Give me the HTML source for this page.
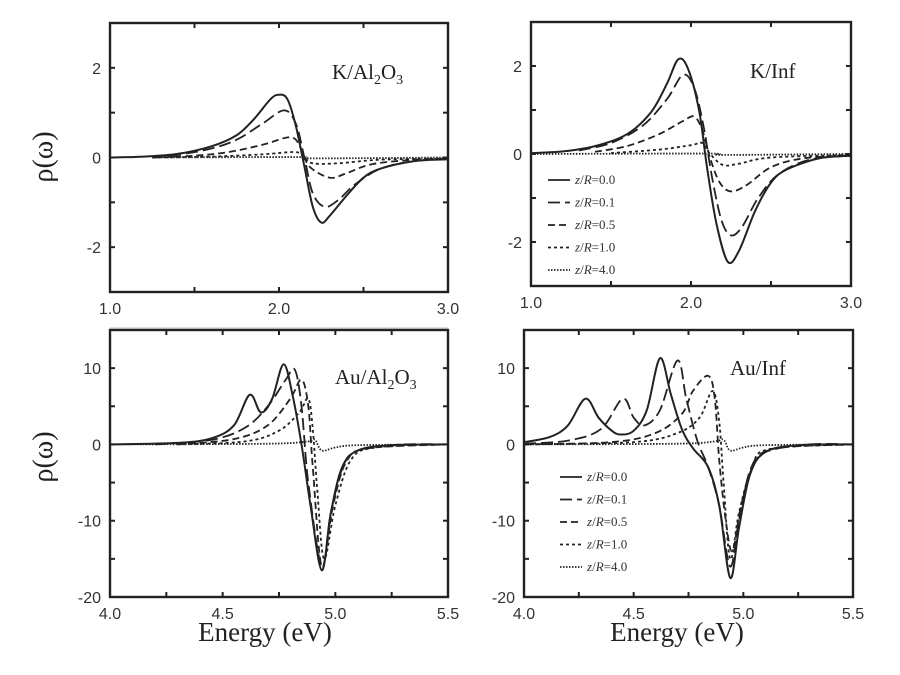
<!DOCTYPE html>
<html><head><meta charset="utf-8"><style>
body{margin:0;background:#fff;}
svg{display:block;}
.tk{font-family:"Liberation Sans",sans-serif;font-size:16px;fill:#333;}
.ttl{font-family:"Liberation Serif",serif;font-size:21px;fill:#222;}
.lg{font-family:"Liberation Serif",serif;font-size:13px;fill:#333;}
</style></head><body>
<svg id="fig" width="900" height="675" viewBox="0 0 900 675"></svg>
<script>
const series = ['z/R=0.0','z/R=0.1','z/R=0.5','z/R=1.0','z/R=4.0'];
const kal_0 = [[1.0,0],[1.2,0.02],[1.4,0.08],[1.6,0.25],[1.75,0.5],[1.85,0.85],[1.95,1.3],[2.0,1.4],[2.05,1.3],[2.1,0.7],[2.15,-0.2],[2.2,-1.1],[2.25,-1.45],[2.3,-1.3],[2.4,-0.85],[2.5,-0.45],[2.6,-0.25],[2.8,-0.08],[3.0,-0.04]];
const kal_1 = [[1.25,0],[1.4,0.06],[1.6,0.2],[1.75,0.4],[1.9,0.75],[2.03,1.05],[2.1,0.75],[2.15,0],[2.2,-0.8],[2.27,-1.1],[2.35,-0.95],[2.45,-0.6],[2.6,-0.25],[2.8,-0.08],[3.0,-0.04]];
const kal_5 = [[1.25,0],[1.5,0.04],[1.7,0.12],[1.9,0.28],[2.07,0.45],[2.13,0.2],[2.18,-0.2],[2.3,-0.45],[2.4,-0.35],[2.55,-0.15],[2.8,-0.05],[3.0,-0.03]];
const kal_10 = [[1.25,0],[1.6,0.02],[1.9,0.07],[2.1,0.12],[2.15,0],[2.2,-0.13],[2.35,-0.13],[2.6,-0.05],[3.0,-0.02]];
const kal_40 = [[1.25,0],[2.1,0.01],[2.2,-0.02],[3.0,0]];
const kinf_0 = [[1.0,0.02],[1.2,0.06],[1.4,0.18],[1.6,0.45],[1.75,0.95],[1.85,1.6],[1.92,2.15],[1.98,1.95],[2.05,1.0],[2.1,-0.3],[2.16,-1.6],[2.23,-2.45],[2.3,-2.2],[2.4,-1.3],[2.5,-0.65],[2.6,-0.35],[2.8,-0.1],[3.0,-0.04]];
const kinf_1 = [[1.3,0.08],[1.5,0.25],[1.7,0.65],[1.85,1.25],[1.95,1.8],[2.02,1.5],[2.08,0.6],[2.13,-0.5],[2.19,-1.5],[2.25,-1.85],[2.32,-1.65],[2.42,-1.0],[2.55,-0.45],[2.75,-0.12],[3.0,-0.04]];
const kinf_5 = [[1.4,0.05],[1.6,0.18],[1.8,0.45],[1.95,0.75],[2.02,0.85],[2.07,0.55],[2.12,-0.1],[2.18,-0.65],[2.25,-0.85],[2.35,-0.7],[2.5,-0.3],[2.7,-0.1],[3.0,-0.03]];
const kinf_10 = [[1.5,0.02],[1.8,0.1],[2.0,0.2],[2.07,0.25],[2.12,0],[2.2,-0.25],[2.3,-0.22],[2.5,-0.08],[3.0,-0.02]];
const kinf_40 = [[1.0,0],[2.1,0.01],[2.2,-0.02],[3.0,0]];
const aual_0 = [[4.0,0],[4.3,0.2],[4.45,0.8],[4.55,2.5],[4.62,6.5],[4.67,4.2],[4.72,6],[4.77,10.5],[4.81,6.5],[4.85,0],[4.89,-8],[4.94,-16.5],[4.98,-9],[5.03,-3],[5.1,-0.8],[5.25,-0.1],[5.5,0]];
const aual_1 = [[4.2,0],[4.45,0.6],[4.6,2.2],[4.7,5],[4.78,8.5],[4.82,9.8],[4.85,5],[4.88,-5],[4.94,-16],[4.98,-9],[5.04,-2.5],[5.12,-0.6],[5.3,0],[5.5,0]];
const aual_5 = [[4.3,0],[4.55,0.7],[4.7,2.5],[4.8,6],[4.85,8.5],[4.88,5],[4.9,-3],[4.94,-16],[4.99,-8],[5.05,-2.2],[5.15,-0.5],[5.5,0]];
const aual_10 = [[4.3,0],[4.6,0.4],[4.75,1.8],[4.84,4.2],[4.88,6],[4.9,2],[4.92,-6],[4.95,-15],[5.0,-8],[5.07,-2],[5.18,-0.4],[5.5,0]];
const aual_40 = [[4.0,0],[4.7,0.1],[4.88,0.4],[4.91,0.6],[4.94,-0.8],[5.0,-0.4],[5.1,-0.1],[5.5,0]];
const auinf_0 = [[4.0,0.3],[4.12,1],[4.2,2.5],[4.28,6],[4.34,3.5],[4.4,1.8],[4.44,1.3],[4.5,1.8],[4.56,4.5],[4.62,11.3],[4.67,6.5],[4.72,2],[4.77,-0.5],[4.84,-3],[4.89,-8],[4.94,-17.5],[4.98,-11],[5.03,-4],[5.1,-1],[5.25,-0.1],[5.5,0]];
const auinf_1 = [[4.0,0.1],[4.2,0.5],[4.35,2],[4.45,6],[4.5,3.5],[4.55,2.5],[4.62,4.5],[4.7,11],[4.74,6],[4.79,0.5],[4.84,-3],[4.89,-8],[4.94,-16],[4.98,-10],[5.03,-3.5],[5.1,-1],[5.3,0],[5.5,0]];
const auinf_5 = [[4.0,0],[4.4,0.3],[4.6,1.5],[4.72,4],[4.77,7],[4.84,9],[4.87,6],[4.89,-2],[4.92,-10],[4.95,-14],[4.99,-8],[5.05,-2.5],[5.15,-0.5],[5.5,0]];
const auinf_10 = [[4.0,0],[4.5,0.3],[4.7,1.5],[4.8,3.5],[4.86,7],[4.89,3],[4.91,-5],[4.94,-15],[4.98,-9],[5.04,-3],[5.12,-0.6],[5.5,0]];
const auinf_40 = [[4.0,0],[4.7,0.1],[4.87,0.4],[4.91,0.6],[4.94,-0.8],[5.0,-0.4],[5.1,-0.1],[5.5,0]];

const kxTicks=['1.0','2.0','3.0'], kyTicks=['-2','0','2'];
const axTicks=['4.0','4.5','5.0','5.5'], ayTicks=['-20','-10','0','10'];

const NS='http://www.w3.org/2000/svg';
const svg=document.getElementById('fig');
function mk(tag,attrs,parent){const e=document.createElementNS(NS,tag);for(const k in attrs)e.setAttribute(k,attrs[k]);(parent||svg).appendChild(e);return e;}
const dashes=['','12,5','7,4','3,3','1.5,1.5'];

function smooth(pts){
  let d='M'+pts[0][0].toFixed(1)+','+pts[0][1].toFixed(1);
  for(let i=0;i<pts.length-1;i++){
    const p0=pts[Math.max(i-1,0)],p1=pts[i],p2=pts[i+1],p3=pts[Math.min(i+2,pts.length-1)];
    const c1=[p1[0]+(p2[0]-p0[0])/6,p1[1]+(p2[1]-p0[1])/6];
    const c2=[p2[0]-(p3[0]-p1[0])/6,p2[1]-(p3[1]-p1[1])/6];
    d+='C'+c1[0].toFixed(1)+','+c1[1].toFixed(1)+' '+c2[0].toFixed(1)+','+c2[1].toFixed(1)+' '+p2[0].toFixed(1)+','+p2[1].toFixed(1);
  }
  return d;
}

function panel(o){
  const g=mk('g',{});
  
  
  const X=v=>o.x0+(v-o.xmin)/(o.xmax-o.xmin)*(o.x1-o.x0);
  const Y=v=>o.y1-(v-o.ymin)/(o.ymax-o.ymin)*(o.y1-o.y0);
  const xt=[];for(let v=o.xmin;v<=o.xmax+1e-9;v+=o.xminor)xt.push(v);
  const yt=[];for(let v=o.ymin;v<=o.ymax+1e-9;v+=o.yminor)yt.push(v);
  xt.forEach(v=>{mk('line',{x1:X(v),x2:X(v),y1:o.y1,y2:o.y1-5,stroke:'#222','stroke-width':2},g);mk('line',{x1:X(v),x2:X(v),y1:o.y0,y2:o.y0+5,stroke:'#222','stroke-width':2},g);});
  yt.forEach(v=>{mk('line',{x1:o.x0,x2:o.x0+5,y1:Y(v),y2:Y(v),stroke:'#222','stroke-width':2},g);mk('line',{x1:o.x1,x2:o.x1-5,y1:Y(v),y2:Y(v),stroke:'#222','stroke-width':2},g);});
  o.xt.forEach(s=>{const t=mk('text',{x:X(parseFloat(s)),y:o.y1+22,'text-anchor':'middle',class:'tk'},g);t.textContent=s;
    });
  o.yt.forEach(s=>{const t=mk('text',{x:o.x0-9,y:Y(parseFloat(s))+6,'text-anchor':'end',class:'tk'},g);t.textContent=s;
    });
  o.curves.forEach((c,i)=>{
    const pts=c.map(p=>[X(p[0]),Y(p[1])]);
    const p=mk('path',{d:smooth(pts),fill:'none',stroke:'#222','stroke-width':i==0?2:1.8,'stroke-dasharray':dashes[i]},g);
    
    
  });
  const fr=mk('rect',{x:o.x0,y:o.y0,width:o.x1-o.x0,height:o.y1-o.y0,fill:'none',stroke:'#222','stroke-width':2.4},g);
  
  const t=mk('text',{x:o.tx,y:o.ty,class:'ttl'},g);t.innerHTML=o.title;
  
  if(o.legend){
    const lg=mk('g',{},g);
    
    series.forEach((s,i)=>{
      const yy=o.legend[1]+i*22.5;
      mk('line',{x1:o.legend[0],x2:o.legend[0]+22,y1:yy,y2:yy,stroke:'#222','stroke-width':1.8,'stroke-dasharray':dashes[i]},lg);
      const tt=mk('text',{x:o.legend[0]+27,y:yy+4,class:'lg'},lg);
      tt.innerHTML='<tspan font-style="italic">z</tspan>/<tspan font-style="italic">R</tspan>='+s.split('=')[1];
      
    });
  }
}
panel({name:'panel-k-al2o3',x0:110,x1:448,y0:23,y1:292,xmin:1,xmax:3,ymin:-3,ymax:3,xminor:0.5,yminor:1,xt:kxTicks,yt:kyTicks,
  curves:[kal_0,kal_1,kal_5,kal_10,kal_40],title:'K/Al<tspan font-size="14" dy="5">2</tspan><tspan dy="-5">O</tspan><tspan font-size="14" dy="5">3</tspan>',tx:332,ty:79});
panel({name:'panel-k-inf',x0:531,x1:851,y0:22,y1:286,xmin:1,xmax:3,ymin:-3,ymax:3,xminor:0.5,yminor:1,xt:kxTicks,yt:kyTicks,
  curves:[kinf_0,kinf_1,kinf_5,kinf_10,kinf_40],title:'K/Inf',tx:750,ty:78,legend:[548,180]});
panel({name:'panel-au-al2o3',x0:110,x1:448,y0:330,y1:597,xmin:4,xmax:5.5,ymin:-20,ymax:15,xminor:0.25,yminor:5,xt:axTicks,yt:ayTicks,
  curves:[aual_0,aual_1,aual_5,aual_10,aual_40],title:'Au/Al<tspan font-size="14" dy="5">2</tspan><tspan dy="-5">O</tspan><tspan font-size="14" dy="5">3</tspan>',tx:335,ty:384});
panel({name:'panel-au-inf',x0:524,x1:853,y0:330,y1:597,xmin:4,xmax:5.5,ymin:-20,ymax:15,xminor:0.25,yminor:5,xt:axTicks,yt:ayTicks,
  curves:[auinf_0,auinf_1,auinf_5,auinf_10,auinf_40],title:'Au/Inf',tx:730,ty:375,legend:[560,477]});
[['y-axis-title-top',157],['y-axis-title-bottom',457]].forEach(a=>{
  const t=mk('text',{x:0,y:0,transform:'translate(52,'+a[1]+') rotate(-90)','text-anchor':'middle',class:'ttl',style:'font-size:28px'});
  t.textContent='ρ(ω)';
  
});
[['x-axis-title-left',265],['x-axis-title-right',677]].forEach(a=>{
  const t=mk('text',{x:a[1],y:641,'text-anchor':'middle',class:'ttl',style:'font-size:27px'});
  t.textContent='Energy (eV)';
  
});
const sep=mk('line',{x1:110,x2:448,y1:328,y2:328,stroke:'#bbb','stroke-width':1});

</script>
</body></html>
